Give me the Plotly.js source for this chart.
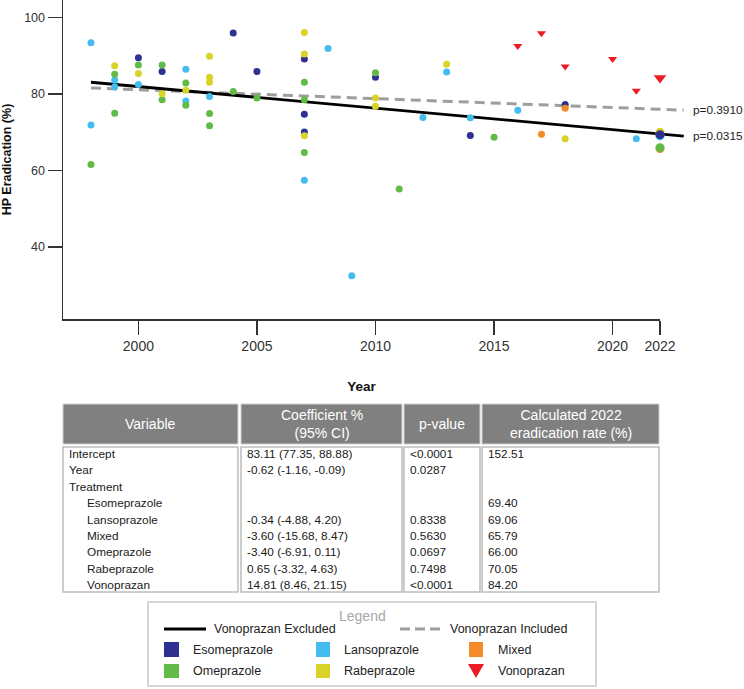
<!DOCTYPE html>
<html><head><meta charset="utf-8">
<script src="https://cdn.plot.ly/plotly-3.0.1.min.js"></script>
<style>html,body{margin:0;padding:0;background:#fff}</style>
</head><body><div id="chart" style="width:744px;height:689px"></div>
<script>
// ---------------- data ----------------
const esoYears   = [2000, 2001, 2004, 2005, 2007, 2007, 2007, 2010, 2014, 2018];
const esoRates   = [89.5, 85.9, 96.0, 85.9, 89.2, 74.7, 70.1, 84.4, 69.2, 77.3];

const lansoYears = [1998, 1998, 1999, 1999, 2000, 2002, 2002, 2003, 2007, 2008, 2009, 2012, 2013, 2014, 2016, 2021];
const lansoRates = [93.4, 71.9, 83.7, 81.9, 82.5, 86.5, 78.2, 79.4, 57.5, 91.9, 32.5, 73.9, 85.8, 73.8, 75.8, 68.3];

const mixedYears = [2017, 2018];
const mixedRates = [69.5, 76.3];

const omeYears   = [1998, 1999, 1999, 2000, 2001, 2001, 2002, 2002, 2003, 2003, 2004, 2005, 2007, 2007, 2007, 2010, 2011, 2015];
const omeRates   = [61.6, 85.2, 75.0, 87.6, 87.6, 78.5, 82.9, 77.1, 74.9, 71.7, 80.7, 79.0, 83.1, 78.5, 64.7, 85.6, 55.2, 68.7];

const rabeYears  = [1999, 2000, 2001, 2002, 2003, 2003, 2003, 2007, 2007, 2007, 2010, 2010, 2013, 2018];
const rabeRates  = [87.4, 85.4, 80.1, 81.0, 89.9, 84.4, 83.1, 96.1, 90.5, 69.1, 79.0, 76.8, 87.8, 68.3];

const vonoYears  = [2016, 2017, 2018, 2020, 2021];
const vonoRates  = [92.6, 95.9, 87.2, 89.2, 80.9];

const treatments = ['Esomeprazole', 'Lansoprazole', 'Mixed', 'Omeprazole', 'Rabeprazole', 'Vonoprazan'];
const calcYear   = 2022;
const calc2022   = [69.40, 69.06, 65.79, 66.00, 70.05, 84.20];

const fitYears     = [1998, 2023];
const fitExcluded  = [83.1, 69.0];
const fitIncluded  = [81.6, 75.8];
const pExcluded    = 'p=0.0315';
const pIncluded    = 'p=0.3910';

const xTickVals = [2000, 2005, 2010, 2015, 2020, 2022];
const yTickVals = [40, 60, 80, 100];

const tableHeaders   = ['Variable', 'Coefficient %<br>(95% CI)', 'p-value', 'Calculated 2022<br>eradication rate (%)'];
const tableVariables = ['Intercept', 'Year', 'Treatment', 'Esomeprazole', 'Lansoprazole', 'Mixed', 'Omeprazole', 'Rabeprazole', 'Vonoprazan'];
const tableCoefs     = ['83.11 (77.35, 88.88)', '-0.62 (-1.16, -0.09)', '', '', '-0.34 (-4.88, 4.20)', '-3.60 (-15.68, 8.47)', '-3.40 (-6.91, 0.11)', '0.65 (-3.32, 4.63)', '14.81 (8.46, 21.15)'];
const tablePvals     = ['<0.0001', '0.0287', '', '', '0.8338', '0.5630', '0.0697', '0.7498', '<0.0001'];
const tableRates     = ['152.51', '', '', '69.40', '69.06', '65.79', '66.00', '70.05', '84.20'];

// ---------------- style ----------------
const W = 744, H = 689;
const fx = p => p / W;
const fy = p => 1 - p / H;
const FONT = 'Liberation Sans, Arial, Helvetica, sans-serif';
const colors = {
  Esomeprazole: '#2E3192', Lansoprazole: '#45BCEE', Mixed: '#F58A2A',
  Omeprazole: '#62BB46', Rabeprazole: '#D9D327', Vonoprazan: '#EC1C24'
};
const esc = s => s.replace(/&/g, '&amp;').replace(/</g, '&lt;').replace(/>/g, '&gt;');

const xRange  = [1996.82, 2022];
const x2Range = [1996.82, 2023.265];
const yRange  = [21.2, 104.6];
const yDom0   = fy(319);

function pts(name, xs, ys) {
  const tri = name === 'Vonoprazan';
  return {
    type: 'scatter', mode: 'markers', name: name, x: xs, y: ys,
    xaxis: 'x2', yaxis: 'y', cliponaxis: false,
    marker: { color: colors[name], size: tri ? 8 : 7, symbol: tri ? 'triangle-down' : 'circle', line: { width: 0 } }
  };
}
function calcPt(name) {
  const i = treatments.indexOf(name);
  const tri = name === 'Vonoprazan';
  return {
    type: 'scatter', mode: 'markers', name: name + ' 2022', x: [calcYear], y: [calc2022[i]],
    xaxis: 'x2', yaxis: 'y', cliponaxis: false,
    marker: { color: colors[name], size: tri ? 11 : 9, symbol: tri ? 'triangle-down' : 'circle', line: { width: 0 } }
  };
}

const data = [
  // empty trace so the visible Year axis (x / y subplot) is created
  { type: 'scatter', mode: 'markers', x: [], y: [], xaxis: 'x', yaxis: 'y', hoverinfo: 'skip', showlegend: false },
  { type: 'scatter', mode: 'lines', name: 'Vonoprazan Included', x: fitYears, y: fitIncluded,
    xaxis: 'x2', yaxis: 'y', line: { color: '#9E9E9E', width: 3, dash: '10px,6px' } },
  { type: 'scatter', mode: 'lines', name: 'Vonoprazan Excluded', x: fitYears, y: fitExcluded,
    xaxis: 'x2', yaxis: 'y', line: { color: '#000000', width: 2.8 } },
  pts('Esomeprazole', esoYears, esoRates),
  pts('Lansoprazole', lansoYears, lansoRates),
  pts('Omeprazole', omeYears, omeRates),
  pts('Rabeprazole', rabeYears, rabeRates),
  pts('Mixed', mixedYears, mixedRates),
  pts('Vonoprazan', vonoYears, vonoRates),
  calcPt('Mixed'), calcPt('Omeprazole'), calcPt('Rabeprazole'),
  calcPt('Lansoprazole'), calcPt('Esomeprazole'), calcPt('Vonoprazan')
];

const shapes = [];
const annotations = [];

// p-value labels at fitted line ends
annotations.push({ xref: 'x2', yref: 'y', x: fitYears[1], y: fitIncluded[1], text: pIncluded, showarrow: false,
  xanchor: 'left', yanchor: 'middle', xshift: 7, font: { family: FONT, size: 11.8, color: '#222' } });
annotations.push({ xref: 'x2', yref: 'y', x: fitYears[1], y: fitExcluded[1], text: pExcluded, showarrow: false,
  xanchor: 'left', yanchor: 'middle', xshift: 7, font: { family: FONT, size: 11.8, color: '#222' } });

// ---------------- table ----------------
const colLeft  = [63, 241, 404, 482];
const colRight = [238, 402, 480, 659];
const headTop = 404, headBot = 444, bodyTop = 447, bodyBot = 592;
const rowY0 = 454, rowH = 16.4;
const tableCols = [tableVariables, tableCoefs, tablePvals, tableRates];
for (let c = 0; c < 4; c++) {
  shapes.push({ type: 'rect', xref: 'paper', yref: 'paper', x0: fx(colLeft[c]), x1: fx(colRight[c]),
    y0: fy(headBot), y1: fy(headTop), fillcolor: '#808080', line: { color: '#D0D0D0', width: 1 }, layer: 'below' });
  shapes.push({ type: 'rect', xref: 'paper', yref: 'paper', x0: fx(colLeft[c]), x1: fx(colRight[c]),
    y0: fy(bodyBot), y1: fy(bodyTop), fillcolor: 'rgba(0,0,0,0)', line: { color: '#BDBDBD', width: 1.5 }, layer: 'below' });
  annotations.push({ xref: 'paper', yref: 'paper', x: fx((colLeft[c] + colRight[c]) / 2), y: fy((headTop + headBot) / 2),
    text: tableHeaders[c], showarrow: false, xanchor: 'center', yanchor: 'middle', align: 'center',
    font: { family: FONT, size: 14, color: '#FFFFFF' } });
  tableCols[c].forEach((v, r) => {
    if (!v) return;
    const indent = (c === 0 && treatments.includes(v)) ? 18 : 0;
    annotations.push({ xref: 'paper', yref: 'paper', x: fx(colLeft[c] + 4 + indent), y: fy(rowY0 + r * rowH),
      text: esc(v), showarrow: false, xanchor: 'left', yanchor: 'middle',
      font: { family: FONT, size: 11.8, color: '#1A1A1A' } });
  });
}

// ---------------- legend ----------------
const LG = { l: 148, r: 596, t: 602, b: 686 };
shapes.push({ type: 'rect', xref: 'paper', yref: 'paper', x0: fx(LG.l), x1: fx(LG.r), y0: fy(LG.b), y1: fy(LG.t),
  line: { color: '#C8C8C8', width: 1.5 }, fillcolor: 'rgba(0,0,0,0)' });
annotations.push({ xref: 'paper', yref: 'paper', x: fx(362), y: fy(616), text: 'Legend', showarrow: false,
  xanchor: 'center', yanchor: 'middle', font: { family: FONT, size: 14, color: '#A8A8A8' } });
const lgFont = { family: FONT, size: 12.5, color: '#222' };
function lgText(txt, x, y) {
  annotations.push({ xref: 'paper', yref: 'paper', x: fx(x), y: fy(y), text: txt, showarrow: false,
    xanchor: 'left', yanchor: 'middle', font: lgFont });
}
shapes.push({ type: 'line', xref: 'paper', yref: 'paper', x0: fx(164), x1: fx(206), y0: fy(629), y1: fy(629),
  line: { color: '#000', width: 3 } });
lgText('Vonoprazan Excluded', 212, 629);
shapes.push({ type: 'line', xref: 'paper', yref: 'paper', x0: fx(400), x1: fx(443), y0: fy(629), y1: fy(629),
  line: { color: '#9E9E9E', width: 3, dash: '10px,5px' } });
lgText('Vonoprazan Included', 448, 629);
const lgCols = [[164, 179, 191], [316, 330, 342], [469, 483, 496]];
const lgRows = [[642, 657], [664, 678]];
const lgOrder = [['Esomeprazole', 'Lansoprazole', 'Mixed'], ['Omeprazole', 'Rabeprazole', 'Vonoprazan']];
lgOrder.forEach((row, ri) => row.forEach((name, ci) => {
  const [x0, x1, tx] = lgCols[ci];
  const [y0, y1] = lgRows[ri];
  if (name === 'Vonoprazan') {
    const path = 'M' + fx(x0 - 1) + ',' + fy(y0) + ' L' + fx(x1 + 1) + ',' + fy(y0) + ' L' + fx((x0 + x1) / 2) + ',' + fy(y1) + ' Z';
    shapes.push({ type: 'path', xref: 'paper', yref: 'paper', path: path, fillcolor: colors[name], line: { width: 0 } });
  } else {
    shapes.push({ type: 'rect', xref: 'paper', yref: 'paper', x0: fx(x0), x1: fx(x1), y0: fy(y1), y1: fy(y0),
      fillcolor: colors[name], line: { width: 0 } });
  }
  lgText(name, tx, (y0 + y1) / 2);
}));

const layout = {
  width: W, height: H, autosize: false,
  margin: { l: 0, r: 0, t: 0, b: 0, pad: 0 },
  paper_bgcolor: '#fff', plot_bgcolor: 'rgba(0,0,0,0)',
  showlegend: false,
  font: { family: FONT, color: '#333' },
  xaxis: {
    domain: [fx(63), fx(660)], range: xRange, anchor: 'y', automargin: false,
    showline: true, linecolor: '#333', linewidth: 1.5,
    ticks: 'outside', ticklen: 14, tickwidth: 1.5, tickcolor: '#333',
    tickvals: xTickVals, ticktext: xTickVals.map(String),
    tickfont: { family: FONT, size: 14, color: '#333' },
    showgrid: false, zeroline: false, fixedrange: true,
    title: { text: '<b>Year</b>', standoff: 28, font: { family: FONT, size: 13.5, color: '#111' } }
  },
  xaxis2: {
    domain: [fx(63), fx(690)], range: x2Range, anchor: 'y', visible: false, fixedrange: true
  },
  yaxis: {
    domain: [yDom0, 1], range: yRange, anchor: 'x', automargin: false,
    showline: true, linecolor: '#333', linewidth: 1.5,
    ticks: 'outside', ticklen: 14, tickwidth: 1.5, tickcolor: '#333',
    tickvals: yTickVals, tickfont: { family: FONT, size: 12.5, color: '#333' },
    showgrid: false, zeroline: false, fixedrange: true,
    title: { text: '<b>HP Eradication (%)</b>', standoff: 10, font: { family: FONT, size: 12.5, color: '#111' } }
  },
  shapes: shapes,
  annotations: annotations
};

Plotly.newPlot('chart', data, layout, { displayModeBar: false, staticPlot: true });
</script>
</body></html>
